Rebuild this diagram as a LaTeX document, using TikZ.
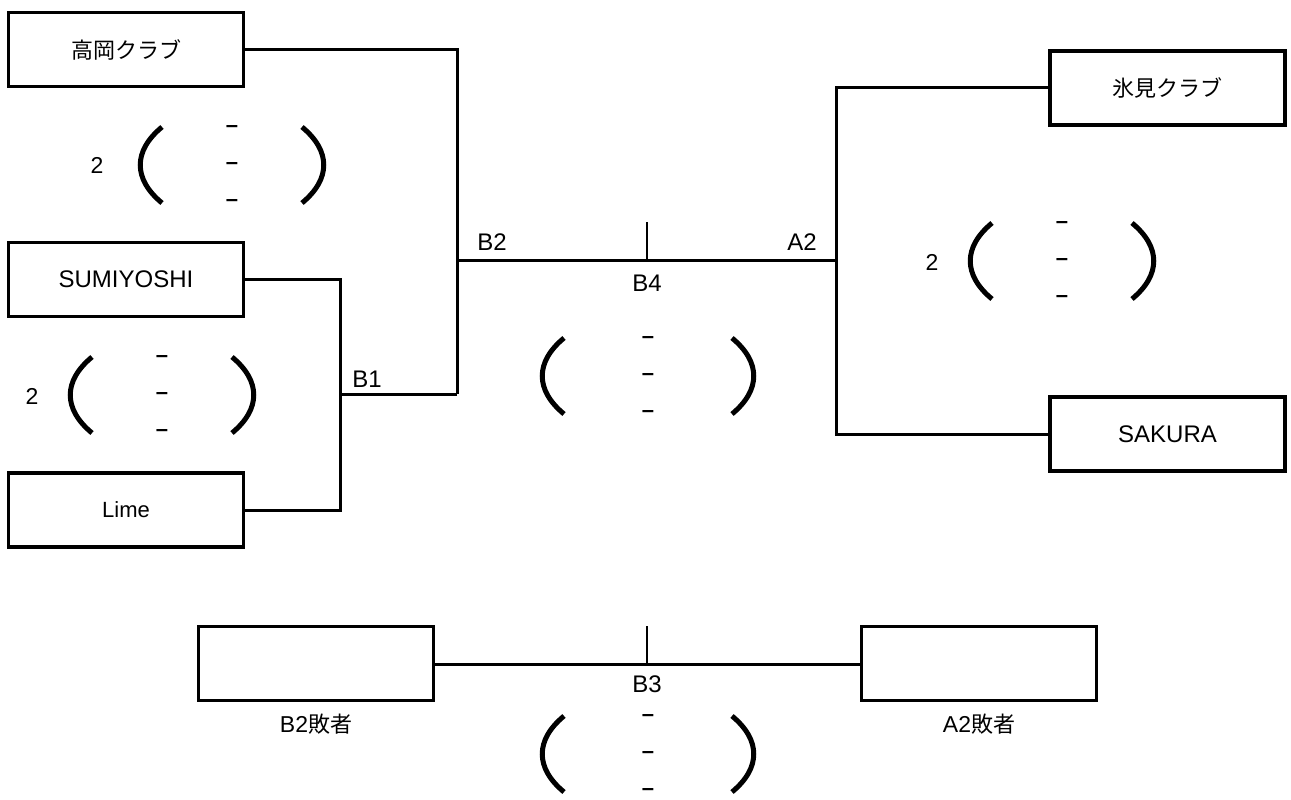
\documentclass[tikz,border=0pt]{standalone}
\usepackage{fontspec}
\setmainfont{Liberation Sans}
\newfontfamily\jp{Noto Sans CJK JP}
\usetikzlibrary{positioning}

\newcommand{\jpt}[1]{{\jp\fontsize{22}{26}\selectfont #1}}

\tikzset{
  team/.style={draw, line width=3.5pt, minimum width=235pt, minimum height=74pt,
    inner sep=0pt, font=\fontsize{24}{28}\selectfont},
  wire/.style={line width=3pt},
  tick/.style={line width=2.5pt},
  paren/.style={line width=5pt},
  lbl/.style={inner sep=0pt, font=\fontsize{24}{28}\selectfont},
  pts/.style={inner sep=0pt, font=\fontsize{23}{26}\selectfont},
  dashmark/.style={inner sep=0pt, font=\bfseries\fontsize{22}{26}\selectfont}
}

% score bracket: x, y, tip offset, bulge control
\newcommand{\scoreset}[4]{%
  \draw[paren] (#1-#3,#2-38) .. controls (#1-#4,#2-14) and (#1-#4,#2+14) .. (#1-#3,#2+38);
  \draw[paren] (#1+#3,#2-38) .. controls (#1+#4,#2-14) and (#1+#4,#2+14) .. (#1+#3,#2+38);
  \node[dashmark] (d#1a) at (#1,#2-36) {–};
  \node[dashmark] (d#1b) at (#1,#2+1) {–};
  \node[dashmark] (d#1c) at (#1,#2+38) {–};
}

\begin{document}
\begin{tikzpicture}[x=1pt,y=-1pt]
  \useasboundingbox (0,0) rectangle (1291,800);

  % teams
  \node[team] (t_1) at (126,49.5) {\jpt{高岡クラブ}};
  \node[team] (t_2) at (126,279.5) {SUMIYOSHI};
  \node[team, font=\fontsize{22}{26}\selectfont] (t_3) at (126,510) {Lime};
  \node[team] (t_4) at (1167.5,88) {\jpt{氷見クラブ}};
  \node[team] (t_5) at (1167.5,434) {SAKURA};
  \node[team] (t_6) at (316,663.5) {};
  \node[team] (t_7) at (979,663.5) {};

  % junctions
  \coordinate (j_b1) at (340,394);
  \coordinate (j_b2) at (457,394);
  \coordinate (j_b2m) at (457,260);
  \coordinate (j_a2) at (836,260);
  \coordinate (j_b4) at (647,260);
  \coordinate (j_b4t) at (647,222);
  \coordinate (j_b3) at (647,664);
  \coordinate (j_b3t) at (647,626);

  \draw[wire] (t_2.east) -| (j_b1);
  \draw[wire] (t_3.east) -| (j_b1);
  \draw[wire] (j_b1) -- (j_b2);
  \draw[wire] (t_1.east) -| (j_b2);
  \draw[wire] (j_b2m) -- (j_a2);
  \draw[wire] (t_4.west) -| (j_a2);
  \draw[wire] (t_5.west) -| (j_a2);
  \draw[tick] (j_b4) -- (j_b4t);
  \draw[wire] (t_6.east |- j_b3) -- (t_7.west |- j_b3);
  \draw[tick] (j_b3) -- (j_b3t);

  % match labels
  \node[lbl] (l_b1) at (367,379) {B1};
  \node[lbl] (l_b2) at (492,242) {B2};
  \node[lbl] (l_a2) at (802,242) {A2};
  \node[lbl] (l_b4) at (647,283) {B4};
  \node[lbl] (l_b3) at (647,684) {B3};
  \node[pts] (l_6) [below=12pt of t_6] {B2\jpt{敗者}};
  \node[pts] (l_7) [below=12pt of t_7] {A2\jpt{敗者}};

  % scores
  \scoreset{232}{165}{70}{99}
  \scoreset{162}{395}{70}{99}
  \scoreset{1062}{261}{70}{99}
  \scoreset{648}{376}{84}{113}
  \scoreset{648}{754}{84}{113}
  \node[pts] (s_1) at (97,165) {2};
  \node[pts] (s_2) at (32,396) {2};
  \node[pts] (s_4) at (932,262) {2};
\end{tikzpicture}
\end{document}
